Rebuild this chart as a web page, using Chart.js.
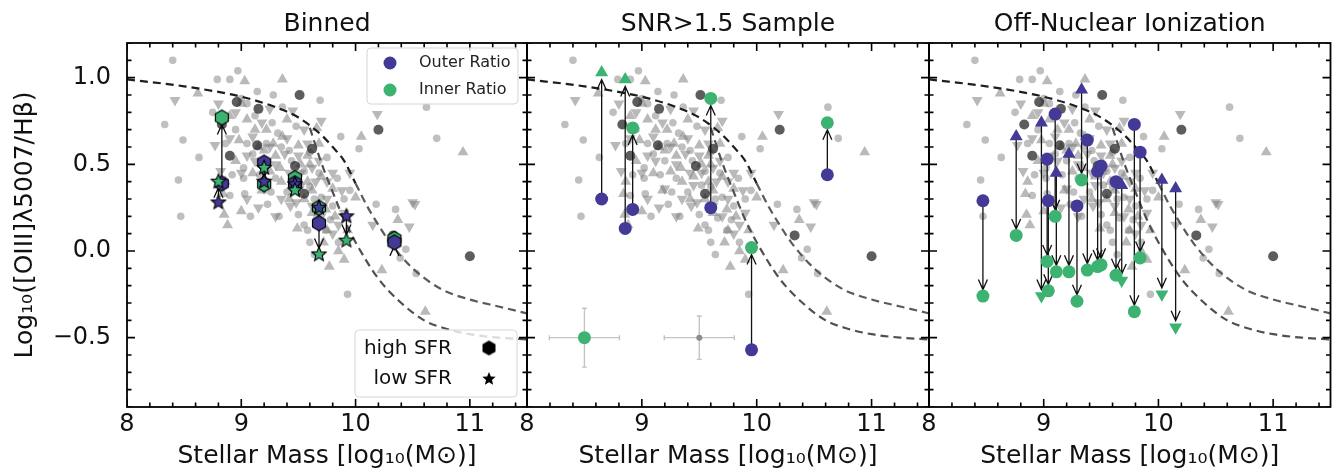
<!DOCTYPE html>
<html>
<head>
<meta charset="utf-8">
<script src="https://cdn.jsdelivr.net/npm/chart.js@4/dist/chart.umd.min.js"></script>
<style>
  body { margin: 0; background: #fff; }
  #wrap { position: relative; width: 1338px; height: 473px; background: #fff; }
  #wrap canvas { position: absolute; left: 0; top: 0; }
</style>
</head>
<body>
<div id="wrap">
  <canvas id="p1" width="1338" height="473"></canvas>
  <canvas id="p2" width="1338" height="473"></canvas>
  <canvas id="p3" width="1338" height="473"></canvas>
</div>
<script>
// ---- data ----
const panelTitles = ['Binned', 'SNR>1.5 Sample', 'Off-Nuclear Ionization'];
const xTicks = [8, 9, 10, 11];
const yTicks = [-0.5, 0.0, 0.5, 1.0];

// background sample, same in every panel
const bgLight = [[8.40,1.10],[8.33,0.73],[8.49,0.64],[8.45,0.41],[8.47,0.20],[8.63,0.54],[8.79,0.99],[8.90,0.99],[8.97,1.04],[9.14,0.92],
  [9.02,0.48],[9.02,0.42],[9.03,0.33],[9.23,0.27],[9.69,0.87],[9.87,0.66],[10.03,0.59],[10.18,0.27],[10.62,0.83],[10.71,0.65],
  [9.64,-0.02],[9.74,0.12],[9.93,-0.25],[10.44,0.01],[10.39,-0.04],[10.53,-0.13],[10.35,0.24],[8.95,0.70],[9.05,0.62],[9.27,0.74],
  [9.35,0.60],[9.44,0.52],[9.55,0.46],[9.60,0.37],[9.70,0.31],[9.80,0.26],[9.20,0.52],[9.30,0.42],[9.40,0.34],[9.50,0.21],
  [9.66,0.19],[9.84,0.42],[9.90,0.30],[8.90,0.32],[9.12,0.78],[9.36,0.83],[9.60,0.57],[9.16,0.44],[9.48,0.72],[9.75,0.54],
  [8.86,0.62],[9.08,0.20],[9.95,0.35],[9.58,0.12],[9.00,0.88],[9.22,0.62],[9.32,0.68],[9.52,0.38],[9.68,0.45],[9.78,0.18],
  [9.42,0.58],[9.10,0.56],[8.92,0.44],[9.26,0.34],[9.64,0.30],[9.33,0.20],[9.60,0.05],[9.85,0.05],[9.55,0.15],[8.75,0.80],
  [9.05,0.85],[9.28,0.90]];
const bgUp = [[8.62,0.91],[9.03,0.98],[9.36,0.99],[10.05,0.66],[10.94,0.57],[9.36,0.66],[9.22,0.70],[9.15,0.60],[8.86,0.40],[8.84,0.33],
  [9.49,0.13],[9.77,-0.09],[9.90,-0.05],[9.93,0.12],[10.23,-0.11],[10.37,0.18],[10.61,-0.35],[9.05,0.76],[9.30,0.55],[9.50,0.61],
  [9.60,0.50],[9.70,0.43],[9.55,0.30],[9.80,0.36],[9.45,0.43],[9.25,0.46],[8.95,0.52],[9.00,0.23],[8.85,0.21],[8.88,0.15],
  [9.66,0.71],[10.00,0.31],[9.40,0.76],[9.62,0.22],[9.18,0.35],[8.98,0.64],[9.72,0.05],[9.82,0.20],[9.12,0.70],[9.34,0.48],
  [9.58,0.40],[9.74,0.24],[9.28,0.62],[9.52,0.50],[9.10,0.45],[9.20,0.58],[9.42,0.30],[9.62,0.35],[9.75,0.12],[9.85,0.00],
  [9.00,0.85],[8.90,0.78],[9.35,0.40],[9.58,0.55],[9.68,0.62]];
const bgDown = [[8.42,0.87],[10.19,0.79],[10.50,0.28],[8.77,0.61],[9.70,0.75],[9.45,0.81],[9.43,0.26],[9.85,0.15],[10.15,0.15],[10.47,0.14],
  [10.52,0.27],[8.80,0.85],[8.95,0.80],[9.10,0.66],[9.20,0.36],[9.35,0.30],[9.55,0.70],[9.65,0.40],[9.75,0.30],[9.30,0.50],
  [9.40,0.65],[9.00,0.45],[9.62,0.26],[9.90,0.22],[9.50,0.55],[8.82,0.46],[9.25,0.82],[9.12,0.52],[9.58,0.62],[9.80,0.45],
  [9.05,0.30],[9.45,0.38],[9.95,0.45],[9.18,0.74],[9.38,0.56],[9.68,0.52],[9.48,0.28],[9.15,0.25],[9.30,0.20],[9.52,0.45],
  [9.70,0.20],[9.80,0.10],[9.88,0.35],[9.05,0.55],[9.25,0.60],[9.42,0.45],[9.62,0.48],[8.90,0.65],[9.75,0.40]];
const bgDark = [[8.96,0.86],[9.15,0.82],[8.83,0.73],[9.51,0.90],[10.20,0.70],[9.14,0.61],[8.90,0.55],[9.62,0.59],[9.47,0.49],[9.55,0.33],
  [10.33,0.09],[11.00,-0.03]];

// demarcation curves
const upperX = [8.0, 8.5, 9.0, 9.3, 9.5, 9.7, 9.8, 9.9, 10.0];
const upperY = [0.99, 0.95, 0.89, 0.83, 0.77, 0.67, 0.60, 0.52, 0.39];
const tailX = [10.0, 10.1, 10.2, 10.3, 10.5, 10.75, 11.0, 11.25, 11.5];
const tailY = [0.39, 0.26, 0.15, 0.05, -0.10, -0.22, -0.28, -0.32, -0.36];
const lowerX = [9.6, 9.7, 9.8, 9.9, 10.0, 10.2, 10.4, 10.6, 10.8, 11.0, 11.25, 11.5];
const lowerY = [0.71, 0.51, 0.34, 0.18, 0.05, -0.16, -0.30, -0.40, -0.45, -0.48, -0.50, -0.51];

// panel 1: binned (hexagon = high SFR, star = low SFR)
const binHighX = [8.83, 9.20, 9.47, 9.68, 10.34];
const binHighOuter = [0.39, 0.51, 0.39, 0.16, 0.05];
const binHighInner = [0.77, 0.385, 0.42, 0.25, 0.07];
const binLowX = [8.80, 9.20, 9.47, 9.68, 9.92];
const binLowOuter = [0.28, 0.40, 0.385, 0.25, 0.20];
const binLowInner = [0.40, 0.48, 0.35, -0.02, 0.06];

// panel 2: SNR>1.5
const snrX = [8.65, 8.855, 8.92, 9.60, 9.955, 10.615];
const snrOuter = [0.30, 0.13, 0.24, 0.25, -0.57, 0.44];
const snrInner = [1.03, 0.99, 0.71, 0.88, 0.02, 0.74];
const snrInnerLim = [1, 1, 0, 0, 0, 0];
const errX = [8.5, 9.5];
const errY = [-0.5, -0.5];
const errDx = [0.305, 0.305];
const errDy = [0.17, 0.125];

// panel 3: off-nuclear ionization
const offX = [8.47, 8.76, 8.98, 9.03, 9.04, 9.10, 9.11, 9.22, 9.29, 9.33, 9.38, 9.47, 9.50, 9.63, 9.68, 9.79, 9.84, 10.03, 10.15];
const offOuter = [0.29, 0.66, 0.74, 0.53, 0.29, 0.79, 0.45, 0.56, 0.26, 0.93, 0.64, 0.46, 0.49, 0.40, 0.38, 0.73, 0.57, 0.41, 0.36];
const offOuterLim = [0, 1, 1, 0, 0, 0, 1, 1, 0, 1, 0, 0, 0, 0, 1, 0, 0, 1, 1];
const offInner = [-0.26, 0.09, -0.26, -0.06, -0.23, 0.20, -0.12, -0.12, -0.29, 0.41, -0.11, -0.09, -0.08, -0.14, -0.17, -0.35, -0.04, -0.25, -0.44];
const offInnerLim = [0, 0, 1, 0, 0, 0, 0, 0, 0, 0, 0, 0, 0, 0, 1, 0, 0, 1, 1];

// ---- look ----
const BLUE = '#433996';
const GREEN = '#3cb371';
const INK = '#111';
const panelLeft = [127, 527, 929];
const panelRight = [527, 929, 1331];

Chart.defaults.font.family = "'DejaVu Sans', sans-serif";
Chart.defaults.color = INK;

const ptsOf = (arr) => arr.map(([x, y]) => ({x, y}));
const zip = (xs, ys) => xs.map((x, i) => ({x, y: ys[i]}));

// hexagon / filled star markers
function shapeCanvas(kind, r, fill, stroke, lw) {
  const s = Math.ceil(2 * r + 2 * lw + 2);
  const c = document.createElement('canvas');
  c.width = c.height = s;
  const g = c.getContext('2d');
  const m = s / 2;
  const n = kind === 'hex' ? 6 : 10;
  g.beginPath();
  for (let k = 0; k < n; k++) {
    const a = -Math.PI / 2 + k * 2 * Math.PI / n;
    const rr = kind === 'hex' ? r : (k % 2 ? r * 0.45 : r);
    g.lineTo(m + rr * Math.cos(a), m + rr * Math.sin(a));
  }
  g.closePath();
  g.fillStyle = fill;
  g.fill();
  if (lw) { g.lineWidth = lw; g.strokeStyle = stroke; g.stroke(); }
  return c;
}

function bgDatasets() {
  const curve = (data, color, order, extra) => Object.assign({
    data, showLine: true, pointRadius: 0, borderColor: color, borderWidth: 2.2,
    borderDash: [8, 5], cubicInterpolationMode: 'monotone', fill: false, order
  }, extra || {});
  return [
    {data: ptsOf(bgLight), pointStyle: 'circle', pointRadius: 3.8, pointBackgroundColor: 'rgba(128,128,128,0.5)', pointBorderWidth: 0, order: 20},
    {data: ptsOf(bgUp), pointStyle: 'triangle', pointRadius: 6.3, pointBackgroundColor: 'rgba(128,128,128,0.55)', pointBorderWidth: 0, order: 19},
    {data: ptsOf(bgDown), pointStyle: 'triangle', pointRotation: 180, pointRadius: 6.3, pointBackgroundColor: 'rgba(128,128,128,0.55)', pointBorderWidth: 0, order: 18},
    {data: ptsOf(bgDark), pointStyle: 'circle', pointRadius: 5, pointBackgroundColor: 'rgba(30,30,30,0.72)', pointBorderWidth: 0, order: 17},
    curve(zip(upperX, upperY), '#1e1e1e', 12),
    curve(zip(tailX, tailY), '#5a5a5a', 11),
    curve(zip(lowerX, lowerY), '#505050', 10, {arrowsAfter: true}),
  ];
}

function arrowSet(ctx, x, y, xs, from, to, gap) {
  ctx.save();
  ctx.strokeStyle = INK;
  ctx.lineWidth = 1.3;
  xs.forEach((v, i) => {
    const px = x.getPixelForValue(v);
    const y0 = y.getPixelForValue(from[i]);
    let y1 = y.getPixelForValue(to[i]);
    const dir = Math.sign(y1 - y0) || 1;
    y1 -= dir * gap;
    ctx.beginPath();
    ctx.moveTo(px, y0);
    ctx.lineTo(px, y1);
    ctx.moveTo(px - 4.5, y1 - dir * 10);
    ctx.lineTo(px, y1);
    ctx.lineTo(px + 4.5, y1 - dir * 10);
    ctx.stroke();
  });
  ctx.restore();
}

function decoPlugin(cfg) {
  return {
    id: 'deco',
    beforeDatasetsDraw(chart) {
      if (cfg.errorbars) cfg.errorbars(chart);
    },
    afterDatasetDraw(chart, args) {
      if (chart.data.datasets[args.index].arrowsAfter && cfg.arrows) {
        const {ctx, scales: {x, y}} = chart;
        cfg.arrows.forEach(a => arrowSet(ctx, x, y, a[0], a[1], a[2], a[3]));
      }
    },
    afterDraw(chart) {
      const {ctx, chartArea: a, scales: {x, y}} = chart;
      ctx.save();
      ctx.beginPath();
      ctx.rect(a.left, a.top, a.right - a.left, a.bottom - a.top);
      ctx.clip();
      ctx.strokeStyle = '#000';
      ctx.lineWidth = 1.6;
      ctx.beginPath();
      for (let i = 0; i <= 17; i++) {
        const v = 8 + i * 0.2;
        const px = x.getPixelForValue(v);
        const L = Math.abs(v - Math.round(v)) < 1e-6 ? 8 : 4.5;
        ctx.moveTo(px, a.bottom); ctx.lineTo(px, a.bottom - L);
        ctx.moveTo(px, a.top); ctx.lineTo(px, a.top + L);
      }
      for (let i = 0; i <= 21; i++) {
        const v = -0.9 + i * 0.1;
        const py = y.getPixelForValue(v);
        const L = Math.abs(v * 2 - Math.round(v * 2)) < 1e-6 ? 8 : 4.5;
        ctx.moveTo(a.left, py); ctx.lineTo(a.left + L, py);
        ctx.moveTo(a.right, py); ctx.lineTo(a.right - L, py);
      }
      ctx.stroke();
      ctx.restore();
      ctx.save();
      ctx.strokeStyle = '#000';
      ctx.lineWidth = 1.8;
      ctx.strokeRect(a.left, a.top, a.right - a.left, a.bottom - a.top);
      ctx.restore();
      if (cfg.legend) cfg.legend(ctx);
    }
  };
}

function roundBox(ctx, x0, y0, w, h) {
  ctx.save();
  ctx.beginPath();
  ctx.roundRect(x0, y0, w, h, 4);
  ctx.fillStyle = 'rgba(255,255,255,0.8)';
  ctx.fill();
  ctx.strokeStyle = '#d6d6d6';
  ctx.lineWidth = 1;
  ctx.stroke();
  ctx.restore();
}

function binnedLegend(ctx) {
  roundBox(ctx, 367, 48, 151, 56);
  ctx.save();
  [[BLUE, 'Outer Ratio', 63], [GREEN, 'Inner Ratio', 90]].forEach(([c, t, yy]) => {
    ctx.beginPath();
    ctx.arc(390, yy, 6.5, 0, Math.PI * 2);
    ctx.fillStyle = c;
    ctx.fill();
    ctx.fillStyle = '#222';
    ctx.font = "16px 'DejaVu Sans'";
    ctx.textBaseline = 'middle';
    ctx.textAlign = 'left';
    ctx.fillText(t, 419, yy);
  });
  roundBox(ctx, 355, 330, 162, 67);
  ctx.font = "20px 'DejaVu Sans'";
  ctx.fillStyle = INK;
  ctx.textAlign = 'right';
  ctx.textBaseline = 'middle';
  ctx.fillText('high SFR', 452, 349);
  ctx.fillText('low SFR', 452, 379);
  const hex = shapeCanvas('hex', 7.5, '#000', '#000', 0);
  const star = shapeCanvas('star', 7, '#000', '#000', 0);
  ctx.drawImage(hex, 489 - hex.width / 2, 348 - hex.height / 2);
  ctx.drawImage(star, 489 - star.width / 2, 379 - star.height / 2);
  ctx.restore();
}

function snrErrorbars(chart) {
  const {ctx, scales: {x, y}} = chart;
  ctx.save();
  ctx.strokeStyle = '#c4c4c4';
  ctx.lineWidth = 1.4;
  errX.forEach((v, i) => {
    const px = x.getPixelForValue(v), py = y.getPixelForValue(errY[i]);
    const xl = x.getPixelForValue(v - errDx[i]), xr = x.getPixelForValue(v + errDx[i]);
    const yt = y.getPixelForValue(errY[i] + errDy[i]), yb = y.getPixelForValue(errY[i] - errDy[i]);
    ctx.beginPath();
    ctx.moveTo(xl, py); ctx.lineTo(xr, py);
    ctx.moveTo(px, yt); ctx.lineTo(px, yb);
    ctx.moveTo(xl, py - 2.5); ctx.lineTo(xl, py + 2.5);
    ctx.moveTo(xr, py - 2.5); ctx.lineTo(xr, py + 2.5);
    ctx.moveTo(px - 2.5, yt); ctx.lineTo(px + 2.5, yt);
    ctx.moveTo(px - 2.5, yb); ctx.lineTo(px + 2.5, yb);
    ctx.stroke();
  });
  ctx.restore();
}

function panelDatasets(k) {
  if (k === 0) {
    const hexB = shapeCanvas('hex', 7.5, BLUE, '#000', 1.2);
    const hexG = shapeCanvas('hex', 7.5, GREEN, '#000', 1.2);
    const starB = shapeCanvas('star', 7.5, BLUE, '#000', 1.1);
    const starG = shapeCanvas('star', 7.5, GREEN, '#000', 1.1);
    return [
      {data: zip(binLowX, binLowInner), pointStyle: starG, pointRadius: 7, order: 0},
      {data: zip(binLowX, binLowOuter), pointStyle: starB, pointRadius: 7, order: 1},
      {data: zip(binHighX, binHighOuter), pointStyle: hexB, pointRadius: 7, order: 2},
      {data: zip(binHighX, binHighInner), pointStyle: hexG, pointRadius: 7, order: 3},
    ];
  }
  if (k === 1) {
    return [
      {data: zip(snrX, snrInner), pointStyle: snrInnerLim.map(l => l ? 'triangle' : 'circle'),
        pointRadius: snrInnerLim.map(l => l ? 7.5 : 6.5), pointBackgroundColor: GREEN, pointBorderWidth: 0, order: 0},
      {data: zip(snrX, snrOuter), pointStyle: 'circle', pointRadius: 6.5, pointBackgroundColor: BLUE, pointBorderWidth: 0, order: 1},
      {data: [{x: errX[0], y: errY[0]}], pointStyle: 'circle', pointRadius: 6.5, pointBackgroundColor: GREEN, pointBorderWidth: 0, order: 2},
      {data: [{x: errX[1], y: errY[1]}], pointStyle: 'circle', pointRadius: 3, pointBackgroundColor: '#8c8c8c', pointBorderWidth: 0, order: 3},
    ];
  }
  return [
    {data: zip(offX, offInner), pointStyle: offInnerLim.map(l => l ? 'triangle' : 'circle'),
      pointRotation: offInnerLim.map(l => l ? 180 : 0), pointRadius: offInnerLim.map(l => l ? 7.5 : 6.5),
      pointBackgroundColor: GREEN, pointBorderWidth: 0, order: 0},
    {data: zip(offX, offOuter), pointStyle: offOuterLim.map(l => l ? 'triangle' : 'circle'),
      pointRadius: offOuterLim.map(l => l ? 7.5 : 6.5), pointBackgroundColor: BLUE, pointBorderWidth: 0, order: 1},
  ];
}

function panelDeco(k) {
  if (k === 0) {
    return {
      arrows: [[binHighX, binHighOuter, binHighInner, 7], [binLowX, binLowOuter, binLowInner, 6]],
      legend: binnedLegend
    };
  }
  if (k === 1) {
    return {arrows: [[snrX, snrOuter, snrInner, 7]], errorbars: snrErrorbars};
  }
  return {arrows: [[offX, offOuter, offInner, 6.5]]};
}

['p1', 'p2', 'p3'].forEach((id, k) => {
  const first = k === 0;
  new Chart(document.getElementById(id), {
    type: 'scatter',
    data: {datasets: bgDatasets().concat(panelDatasets(k))},
    options: {
      responsive: false,
      animation: false,
      events: [],
      layout: {padding: {left: panelLeft[k] - (first ? 127 : 0), right: 1338 - panelRight[k], top: 0, bottom: 0}},
      scales: {
        x: {
          type: 'linear', min: 8, max: 11.5,
          afterBuildTicks: (s) => { s.ticks = xTicks.map(v => ({value: v})); },
          afterFit: (s) => { s.height = 66; },
          grid: {display: false, drawTicks: false},
          border: {display: false},
          ticks: {font: {size: 24}, padding: 3, maxRotation: 0, autoSkip: false, callback: (v) => String(v)},
          title: {display: true, text: 'Stellar Mass [log₁₀(M⊙)]', font: {size: 25}, padding: {top: 0, bottom: 2}}
        },
        y: {
          type: 'linear', min: -0.9, max: 1.2,
          display: first,
          afterBuildTicks: (s) => { s.ticks = yTicks.map(v => ({value: v})); },
          afterFit: (s) => { s.width = first ? 127 : 0; },
          grid: {display: false, drawTicks: false},
          border: {display: false},
          ticks: {font: {size: 24}, padding: 16, callback: (v) => v.toFixed(1).replace('-', '−')},
          title: {display: true, text: 'Log₁₀([OIII]λ5007/Hβ)', font: {size: 25}, padding: {top: 10, bottom: 0}}
        }
      },
      plugins: {
        legend: {display: false},
        tooltip: {enabled: false},
        title: {
          display: true, text: panelTitles[k], fullSize: false,
          font: {size: 25, weight: 'normal'}, color: INK, padding: {top: 9, bottom: 4}
        }
      }
    },
    plugins: [decoPlugin(panelDeco(k))]
  });
});
</script>
</body>
</html>
